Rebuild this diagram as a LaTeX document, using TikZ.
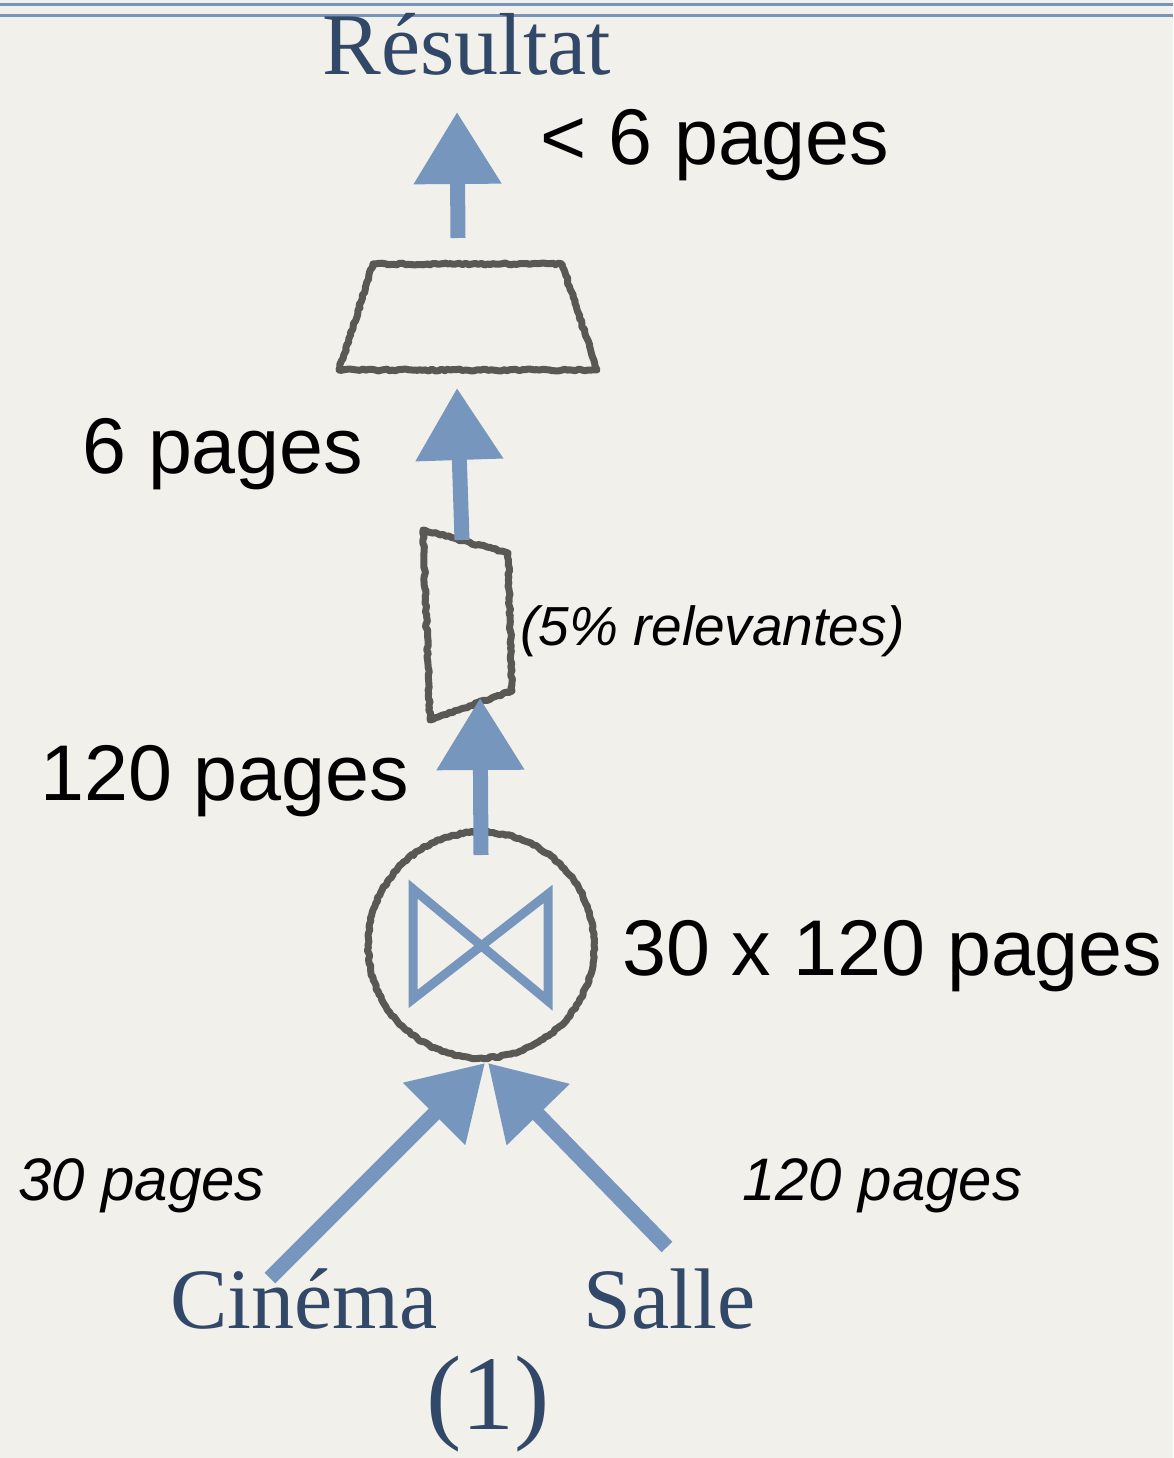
\documentclass[tikz,border=0pt]{standalone}
\usepackage{fontspec}
\setmainfont{Liberation Sans}
\newfontfamily\titleserif{Liberation Serif}
\usetikzlibrary{arrows.meta,decorations.pathmorphing}
\definecolor{bgpaper}{RGB}{242,240,235}
\definecolor{rulecol}{RGB}{118,148,188}
\definecolor{arrowblue}{RGB}{118,150,190}
\definecolor{sketchgray}{RGB}{90,88,85}
\definecolor{navytext}{RGB}{50,72,104}
\begin{document}
\begin{tikzpicture}[x=1pt,y=-1pt,
  flowarrow/.style={draw=arrowblue, line width=15pt, -{Triangle[length=72pt,width=84pt]}},
  sketchline/.style={draw=sketchgray, line width=7pt, line join=round, line cap=round,
    decorate, decoration={random steps, segment length=3pt, amplitude=1pt}},
  bowtie/.style={draw=arrowblue, line width=9pt, line join=miter},
  bigsans/.style={font=\fontsize{79}{81}\selectfont, text=black, inner sep=0pt},
  smallit/.style={font=\fontsize{60}{62}\selectfont\itshape, text=black, inner sep=0pt},
  relit/.style={font=\fontsize{55}{57}\selectfont\itshape, text=black, inner sep=0pt},
  relname/.style={font=\titleserif\fontsize{86}{88}\selectfont, text=navytext, inner sep=0pt},
]
% background and bounding box
\fill[bgpaper] (0,0) rectangle (1173,1458);
\path[use as bounding box] (0,0) rectangle (1173,1458);

% top rules
\draw[rulecol, line width=3pt] (0,5) -- (1173,5);
\draw[rulecol, line width=3pt] (0,16) -- (1173,16);

% key coordinates
\coordinate (resTip) at (457,112);
\coordinate (projTail) at (458,238);
\coordinate (projTip) at (457,388);
\coordinate (selTail) at (462,540);
\coordinate (selTip) at (480,698);
\coordinate (joinTail) at (481,855);
\coordinate (joinc) at (481,945);
\coordinate (joinTipL) at (485,1063);
\coordinate (joinTipR) at (488,1063);
\coordinate (cinTail) at (270,1278);
\coordinate (salTail) at (667,1247);

% projection (trapezoid)
\draw[sketchline] (373,264) -- (562,264) -- (597,370) -- (339,370) -- cycle;

% selection shape
\draw[sketchline] (423,530) -- (508,553) -- (512,691) -- (430,720) -- cycle;

% join circle
\draw[sketchline] (joinc) circle[radius=113pt];

% bowtie join symbol
\draw[bowtie] (413,889) -- (548,1001) -- (548,894) -- (413,999) -- cycle;

% arrows
\draw[flowarrow] (projTail) -- (resTip);
\draw[flowarrow] (selTail) -- (projTip);
\draw[flowarrow] (joinTail) -- (selTip);
\draw[flowarrow] (cinTail) -- (joinTipL);
\draw[flowarrow] (salTail) -- (joinTipR);

% texts
\node[relname, font=\titleserif\fontsize{88}{90}\selectfont, anchor=base] (resultat) at (467,75) {Résultat};
\node[bigsans, anchor=base west] (lt6) at (540,165) {< 6 pages};
\node[bigsans, anchor=base west] (six) at (82,473) {6 pages};
\node[relit, anchor=base west] (pct) at (520,645) {(5\% relevantes)};
\node[bigsans, anchor=base west] (onetwenty) at (40,800) {120 pages};
\node[bigsans, anchor=base west] (prod) at (622,975) {30 x 120 pages};
\node[smallit, anchor=base west] (thirtyp) at (18,1200) {30 pages};
\node[smallit, anchor=base west] (onetwentyp) at (742,1200) {120 pages};
\node[relname, anchor=base west] (cinema) at (170,1328) {Cinéma};
\node[relname, anchor=base west] (salle) at (583,1328) {Salle};
\node[font=\titleserif\fontsize{106}{108}\selectfont, text=navytext, inner sep=0pt, anchor=base] (one) at (488,1429) {(1)};
\end{tikzpicture}
\end{document}
